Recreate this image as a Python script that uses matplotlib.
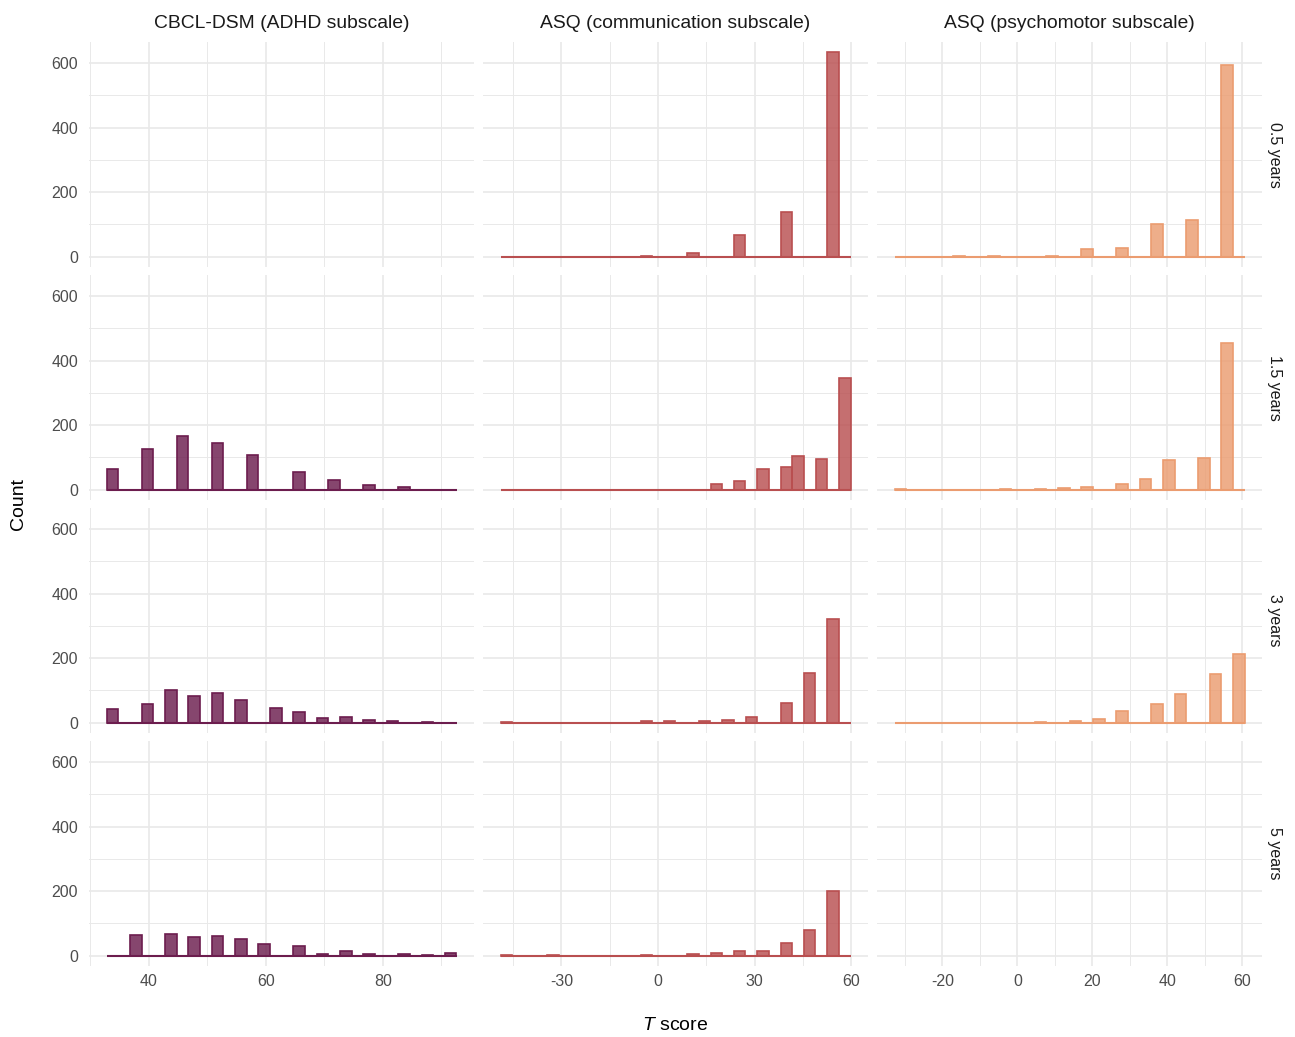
import numpy as np
import matplotlib
matplotlib.use("Agg")
import matplotlib.pyplot as plt

plt.rcParams['font.family'] = ['Liberation Sans', 'DejaVu Sans']
plt.rcParams['mathtext.fontset'] = 'custom'
plt.rcParams['mathtext.rm'] = 'Liberation Sans'
plt.rcParams['mathtext.it'] = 'Liberation Sans:italic'
plt.rcParams['axes.unicode_minus'] = False

scales = ["CBCL-DSM (ADHD subscale)", "ASQ (communication subscale)", "ASQ (psychomotor subscale)"]
ages = ["0.5 years", "1.5 years", "3 years", "5 years"]

# T score range covered by the 30 histogram bins of each scale
cbcl_range = (32.8, 92.6)
comm_range = (-48.9, 59.7)
psy_range = (-32.8, 60.6)

# counts per bin (30 bins), None = no data at that age
cbcl_05 = None
cbcl_15 = [65, 0, 0, 127, 0, 0, 165, 0, 0, 146, 0, 0, 109, 0, 0, 0, 55, 0, 0, 29, 0, 0, 15, 0, 0, 8, 0, 0, 0, 0]
cbcl_3 = [42, 0, 0, 58, 0, 100, 0, 84, 0, 92, 0, 72, 0, 0, 47, 0, 34, 0, 16, 0, 17, 0, 10, 0, 4, 0, 0, 3, 0, 0]
cbcl_5 = [0, 0, 64, 0, 0, 66, 0, 59, 0, 62, 0, 53, 0, 35, 0, 0, 31, 0, 7, 0, 14, 0, 7, 0, 0, 7, 0, 3, 0, 8]

comm_05 = [0, 0, 0, 0, 0, 0, 0, 0, 0, 0, 0, 0, 3, 0, 0, 0, 12, 0, 0, 0, 68, 0, 0, 0, 140, 0, 0, 0, 633, 0]
comm_15 = [0, 0, 0, 0, 0, 0, 0, 0, 0, 0, 0, 0, 0, 0, 0, 0, 0, 0, 19, 0, 26, 0, 63, 0, 71, 104, 0, 95, 0, 345]
comm_3 = [2, 0, 0, 0, 0, 0, 0, 0, 0, 0, 0, 0, 4, 0, 4, 0, 0, 7, 0, 10, 0, 18, 0, 0, 61, 0, 154, 0, 320, 0]
comm_5 = [1, 0, 0, 0, 2, 0, 0, 0, 0, 0, 0, 0, 3, 0, 0, 0, 5, 0, 10, 0, 14, 0, 14, 0, 40, 0, 80, 0, 200, 0]

psy_05 = [0, 0, 0, 0, 0, 3, 0, 0, 3, 0, 0, 0, 0, 3, 0, 0, 23, 0, 0, 28, 0, 0, 100, 0, 0, 113, 0, 0, 593, 0]
psy_15 = [3, 0, 0, 0, 0, 0, 0, 0, 0, 3, 0, 0, 3, 0, 7, 0, 9, 0, 0, 19, 0, 32, 0, 91, 0, 0, 97, 0, 454, 0]
psy_3 = [0, 0, 0, 0, 0, 0, 0, 0, 0, 0, 0, 0, 2, 0, 0, 4, 0, 11, 0, 35, 0, 0, 59, 0, 90, 0, 0, 150, 0, 214]
psy_5 = None

counts = [[cbcl_05, comm_05, psy_05],
          [cbcl_15, comm_15, psy_15],
          [cbcl_3, comm_3, psy_3],
          [cbcl_5, comm_5, psy_5]]
ranges = [cbcl_range, comm_range, psy_range]

fills = ["#6c1d4e", "#b94f50", "#eb9c70"]
major_x = [[40, 60, 80], [-30, 0, 30, 60], [-20, 0, 20, 40, 60]]
minor_x = [[30, 50, 70, 90], [-45, -15, 15, 45], [-30, -10, 10, 30, 50]]

W, H = 1295, 1037
fig = plt.figure(figsize=(W / 100, H / 100), dpi=100)

ymax = max(max(c) for row in counts for c in row if c is not None)
grid_col = "#e9e9e9"

for r in range(4):
    for c in range(3):
        left = (89 + 394 * c) / W
        top = 42 + 233 * r
        ax = fig.add_axes([left, 1 - (top + 225) / H, 385 / W, 225 / H])
        lo, hi = ranges[c]
        edges = np.linspace(lo, hi, 31)
        span = hi - lo
        ax.set_xlim(lo - 0.05 * span, hi + 0.05 * span)
        ax.set_ylim(-0.05 * ymax, 1.05 * ymax)

        ax.set_xticks(major_x[c])
        ax.set_xticks(minor_x[c], minor=True)
        ax.set_yticks([0, 200, 400, 600])
        ax.set_yticks([100, 300, 500], minor=True)
        ax.grid(True, which='major', color=grid_col, lw=1.2)
        ax.grid(True, which='minor', color=grid_col, lw=0.7)
        ax.set_axisbelow(True)
        for s in ax.spines.values():
            s.set_visible(False)
        ax.tick_params(which='both', length=0, labelsize=11.5, labelcolor="#4d4d4d")
        ax.tick_params(axis='y', pad=8)
        ax.tick_params(axis='x', pad=6)
        if c != 0:
            ax.set_yticklabels([])
        if r != 3:
            ax.set_xticklabels([])

        data = counts[r][c]
        if data is not None:
            data = np.array(data)
            nz = data > 0
            ax.bar(edges[:-1][nz], data[nz], width=np.diff(edges)[nz], align='edge',
                   color=fills[c], alpha=0.82, edgecolor='none', zorder=2)
            ax.bar(edges[:-1][nz], data[nz], width=np.diff(edges)[nz], align='edge',
                   facecolor='none', edgecolor=fills[c], lw=1.2, zorder=3)
            # empty bins show up as a flat outline along zero
            ax.hlines(0, edges[0], edges[-1], color=fills[c], lw=1.5, zorder=3)

        if r == 0:
            ax.set_title(scales[c], fontsize=13.9, color="#1a1a1a", pad=10)
        if c == 2:
            ax.text(1.033, 0.5, ages[r], transform=ax.transAxes, rotation=-90,
                    ha='center', va='center', fontsize=11.5, color="#1a1a1a")

fig.text(18 / W, 1 - 504 / H, "Count", rotation=90, ha='center', va='center', fontsize=14)
fig.text(675 / W, 1 - 1025 / H, "$T$ score", ha='center', va='center', fontsize=14)

fig.savefig("out.png", dpi=100, facecolor='white')
